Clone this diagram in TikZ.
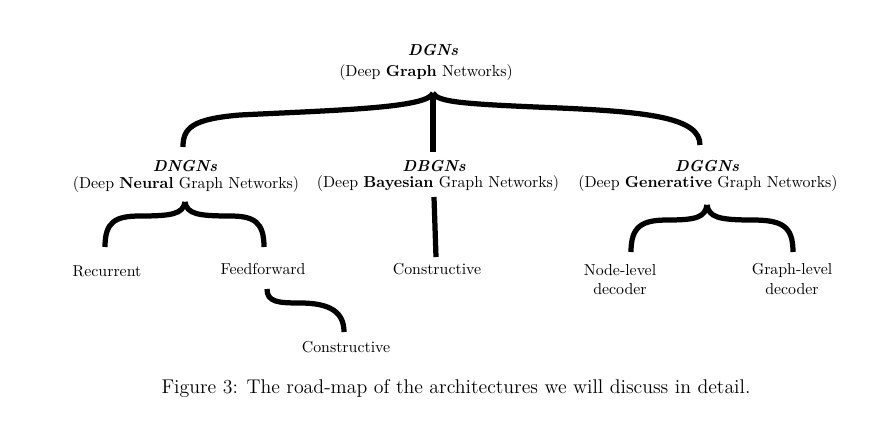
\documentclass[tikz,border=0pt]{standalone}
\begin{document}
\begin{tikzpicture}[x=0.63pt,y=-0.63pt,
  brace/.style={line width=3.3pt},
  lbl/.style={inner sep=0pt, align=center}]
\useasboundingbox[fill=white] (0,0) rectangle (874,438);
% labels
\node[lbl] (dgnT) at (433,50) {\textbf{\textit{DGNs}}};
\node[lbl] (dgnS) at (426,73) {(Deep \textbf{Graph} Networks)};
\node[lbl] (dngnT) at (185,166) {\textbf{\textit{DNGNs}}};
\node[lbl] (dngnS) at (186,185) {(Deep \textbf{Neural} Graph Networks)};
\node[lbl] (dbgnT) at (434,166) {\textbf{\textit{DBGNs}}};
\node[lbl] (dbgnS) at (438,184) {(Deep \textbf{Bayesian} Graph Networks)};
\node[lbl] (dggnT) at (707,166) {\textbf{\textit{DGGNs}}};
\node[lbl] (dggnS) at (708,184) {(Deep \textbf{Generative} Graph Networks)};
\node[lbl] (rec) at (107,271) {Recurrent};
\node[lbl] (ff) at (263,269) {Feedforward};
\node[lbl] (bcon) at (437,269) {Constructive};
\node[lbl] (nld) at (620,280) {Node-level\\decoder};
\node[lbl] (gld) at (792,279) {Graph-level\\decoder};
\node[lbl] (fcon) at (346,347) {Constructive};
\node[lbl] (cap) at (456,389) {\fontsize{12.5}{15}\selectfont Figure 3: The road-map of the architectures we will discuss in detail.};
% brace end points
\coordinate (bt) at (433,93);
\coordinate (bl) at (183,147);
\coordinate (br) at (700,145);
\coordinate (bs) at (433,152);
\coordinate (nt) at (185,202);
\coordinate (nl) at (105,247);
\coordinate (nr) at (264,247);
\coordinate (gt) at (707,205);
\coordinate (gl) at (631,252);
\coordinate (gr) at (793,252);
\coordinate (by1) at (434,197);
\coordinate (by2) at (436,257);
\coordinate (s1) at (267,289);
\coordinate (s2) at (344,332);
% big brace
\draw[brace] (bl) .. controls (183,128) and (192,119) .. (240,115) .. controls (340,110) and (428,108) .. (bt);
\draw[brace] (br) .. controls (700,118) and (650,112) .. (560,108) .. controls (460,104) and (438,102) .. (bt);
\draw[brace] (bt) -- (bs);
% DNGN brace
\draw[brace] (nl) .. controls (105,222) and (115,216) .. (140,216) .. controls (172,216) and (183,214) .. (nt);
\draw[brace] (nr) .. controls (264,222) and (254,216) .. (230,216) .. controls (198,216) and (187,214) .. (nt);
% DBGN line
\draw[brace] (by1) -- (by2);
% DGGN brace
\draw[brace] (gl) .. controls (631,226) and (642,220) .. (668,220) .. controls (697,220) and (705,217) .. (gt);
\draw[brace] (gr) .. controls (793,226) and (782,220) .. (752,220) .. controls (718,220) and (709,217) .. (gt);
% feedforward to constructive
\draw[brace] (s1) .. controls (267,302) and (278,303) .. (300,303) .. controls (330,303) and (344,312) .. (s2);
\end{tikzpicture}
\end{document}
